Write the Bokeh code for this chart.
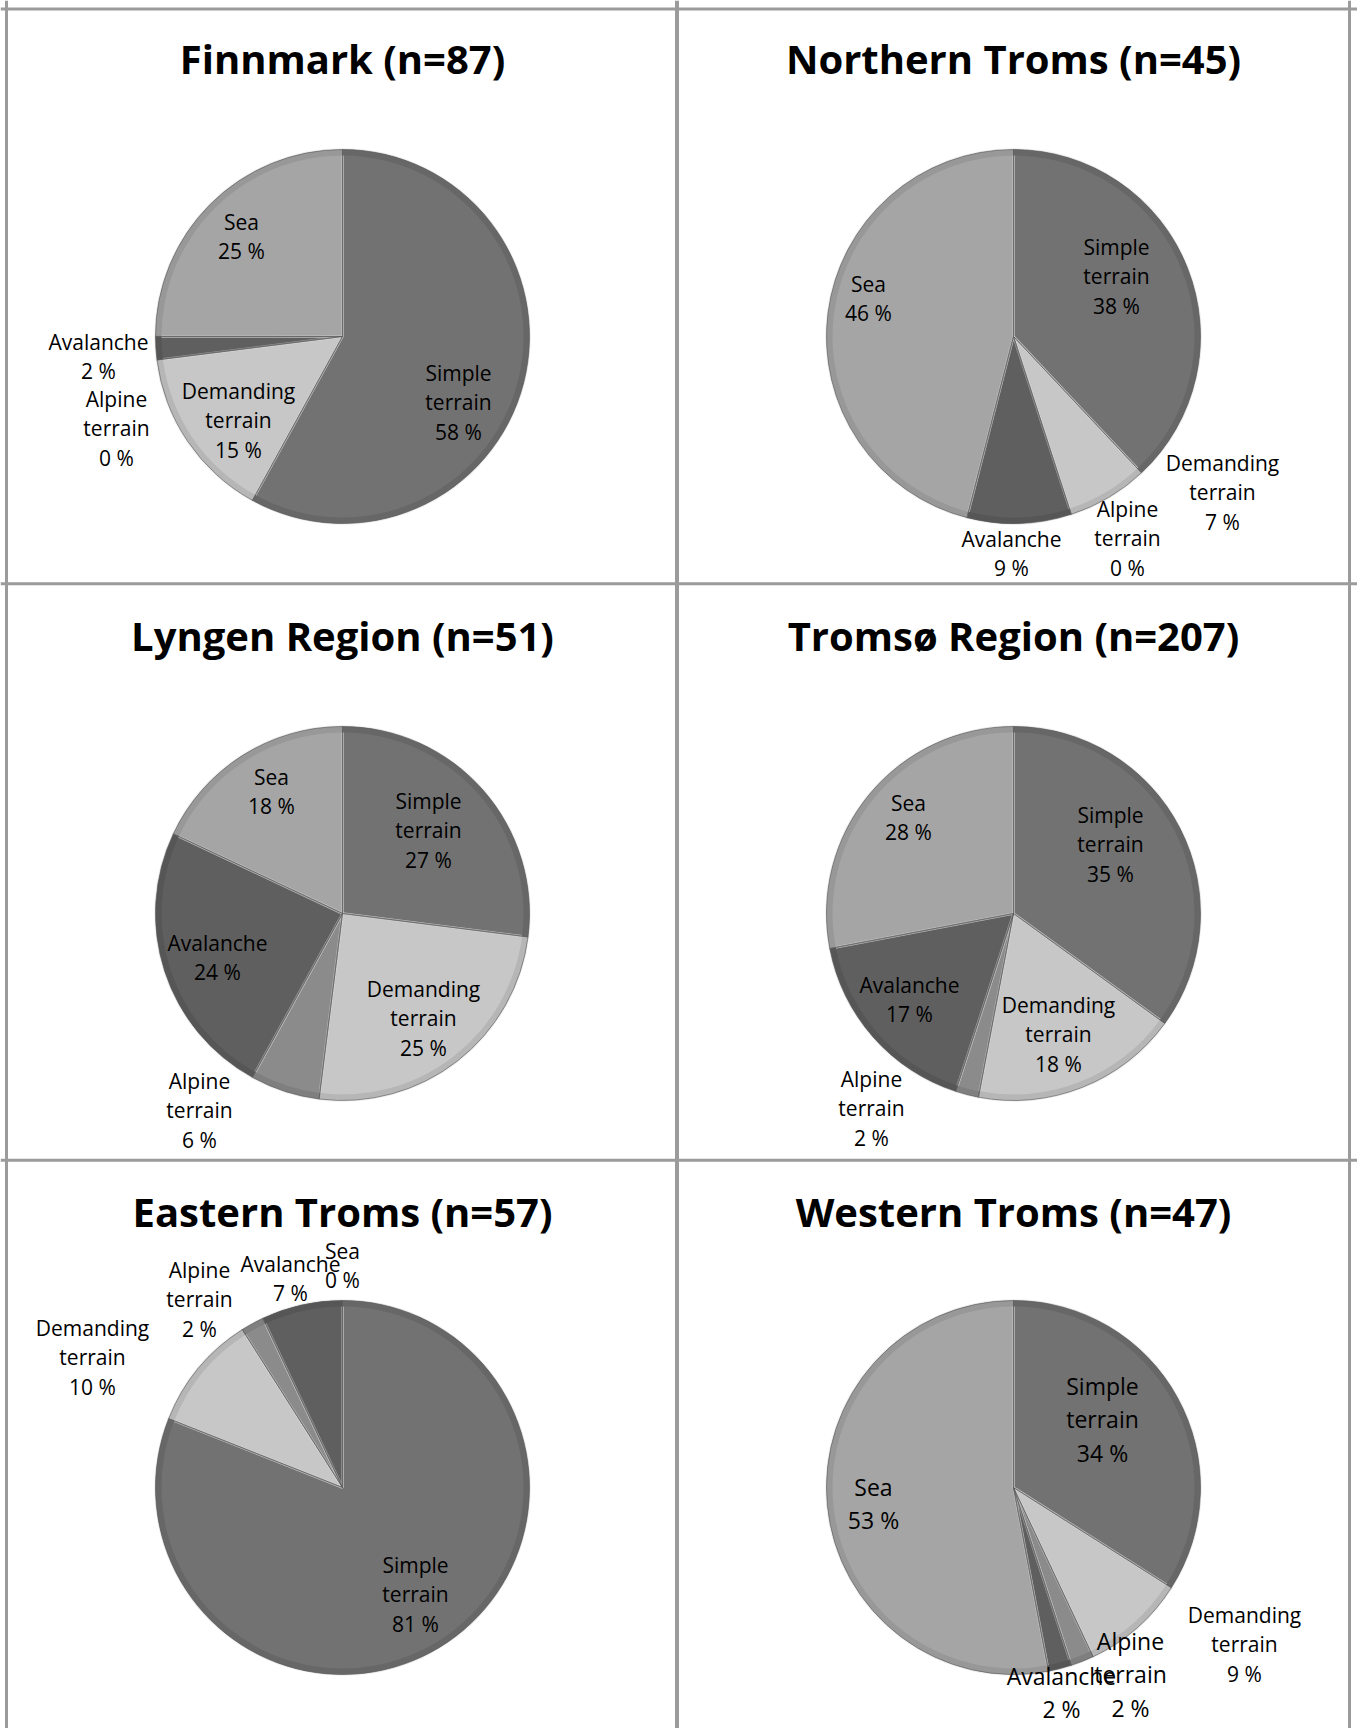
import math
from bokeh.plotting import figure
from bokeh.models import Range1d, Span, ColumnDataSource
from bokeh.core.properties import value
from bokeh.embed import file_html
from bokeh.resources import INLINE

# ---------------- data ----------------
CATEGORIES = ["Simple terrain", "Demanding terrain", "Alpine terrain", "Avalanche", "Sea"]
REGIONS = ["Finnmark", "Northern Troms", "Lyngen Region", "Tromsø Region",
           "Eastern Troms", "Western Troms"]
SAMPLE_SIZES = [87, 45, 51, 207, 57, 47]

finnmark = [58, 15, 0, 2, 25]
northern_troms = [38, 7, 0, 9, 46]
lyngen_region = [27, 25, 6, 24, 18]
tromso_region = [35, 18, 2, 17, 28]
eastern_troms = [81, 10, 2, 7, 0]
western_troms = [34, 9, 2, 2, 53]
SHARES = [finnmark, northern_troms, lyngen_region, tromso_region, eastern_troms, western_troms]

# ---------------- styles / layout ----------------
SLICE_COLORS = ["#727272", "#c7c7c7", "#8b8b8b", "#5f5f5f", "#a5a5a5"]
RIM_COLORS = ["#676767", "#b6b6b6", "#7f7f7f", "#565656", "#989898"]
EDGE_HIGHLIGHT = "#d9d9d9"
BORDER_COLOR = "#9b9b9b"

ORIGIN = 0
PAGE_W, PAGE_H = 1357, 1728
COL_CX = [342, 1013]
ROW_CY = [336, 913, 1487]
TITLE_BASE = [58, 635, 1211]
RADIUS = 187
RIM = 6

# label block centres relative to pie centre (px, y down), in category order
LABEL_OFFSETS = [
    [(116, 66), (-104, 84), (-226, 92), (-244, 20), (-101, -100)],
    [(103, -60), (209, 156), (114, 202), (-2, 217), (-145, -38)],
    [(86, -83), (81, 105), (-143, 197), (-125, 44), (-71, -122)],
    [(97, -69), (45, 121), (-142, 195), (-104, 86), (-105, -96)],
    [(73, 107), (-250, -130), (-143, -188), (-52, -209), (0, -222)],
    [(89, -68), (231, 157), (117, 187), (48, 205), (-140, 16)],
]
LABEL_SIZES = [
    ["21px"] * 5,
    ["21px"] * 5,
    ["21px"] * 5,
    ["21px"] * 5,
    ["21px"] * 5,
    ["23px", "21px", "23px", "23px", "23px"],
]

p = figure(width=PAGE_W, height=PAGE_H,
           x_range=Range1d(ORIGIN, ORIGIN + PAGE_W),
           y_range=Range1d(-(ORIGIN + PAGE_H), -ORIGIN),
           x_axis_type=None, y_axis_type=None,
           toolbar_location=None, output_backend="svg",
           min_border=0, outline_line_color=None,
           background_fill_color="white", border_fill_color="white")
p.grid.visible = False

# panel borders
for xv, w in [(6, 3), (676.5, 4), (1349, 3)]:
    p.add_layout(Span(location=xv, dimension="height", line_color=BORDER_COLOR, line_width=w))
for yv in [8.5, 583.3, 1159.8]:
    p.add_layout(Span(location=-yv, dimension="width", line_color=BORDER_COLOR, line_width=3))

for i, (region, n, shares) in enumerate(zip(REGIONS, SAMPLE_SIZES, SHARES)):
    col, row = i % 2, i // 2
    cx, cy = COL_CX[col], ROW_CY[row]
    total = float(sum(shares))

    xs, ys, starts, ends, fills, rims = [], [], [], [], [], []
    cum = 0.0
    for k, v in enumerate(shares):
        a0 = math.pi / 2 - 2 * math.pi * cum / total
        cum += v
        a1 = math.pi / 2 - 2 * math.pi * cum / total
        if v <= 0:
            continue
        xs.append(cx)
        ys.append(-cy)
        starts.append(a0)
        ends.append(a1)
        fills.append(SLICE_COLORS[k])
        rims.append(RIM_COLORS[k])
    src = ColumnDataSource(dict(x=xs, y=ys, s=starts, e=ends, f=fills, r=rims))
    p.wedge(x="x", y="y", radius=RADIUS, start_angle="s", end_angle="e",
            direction="clock", fill_color="f", line_color=EDGE_HIGHLIGHT,
            line_width=2.5, line_alpha=0.45, source=src)
    p.annular_wedge(x="x", y="y", inner_radius=RADIUS - RIM, outer_radius=RADIUS,
                    start_angle="s", end_angle="e", direction="clock",
                    fill_color="r", line_color=None, source=src)
    p.wedge(x="x", y="y", radius=RADIUS, start_angle="s", end_angle="e",
            direction="clock", fill_color=None, line_color="#5a5a5a",
            line_width=1, line_alpha=0.6, source=src)

    # labels
    lx, ly, lt, ls = [], [], [], []
    for k, (cat, v) in enumerate(zip(CATEGORIES, shares)):
        dx, dy = LABEL_OFFSETS[i][k]
        lx.append(cx + dx)
        ly.append(-(cy + dy))
        lt.append(cat.replace(" ", "\n") + "\n" + f"{v} %")
        ls.append(LABEL_SIZES[i][k])
    p.text(x="x", y="y", text="t", text_font_size="fs",
           source=ColumnDataSource(dict(x=lx, y=ly, t=lt, fs=ls)),
           text_font=value("Open Sans"), text_align="center",
           text_baseline="middle", text_line_height=1.04, text_color="#000000")

    # title
    p.text(x=[cx], y=[-TITLE_BASE[row]], text=[f"{region} (n={n})"],
           text_font=value("Open Sans"), text_font_style="bold",
           text_font_size="40px", text_align="center",
           text_baseline="alphabetic", text_color="#000000")

open("out.html", "w").write(file_html(p, INLINE))
